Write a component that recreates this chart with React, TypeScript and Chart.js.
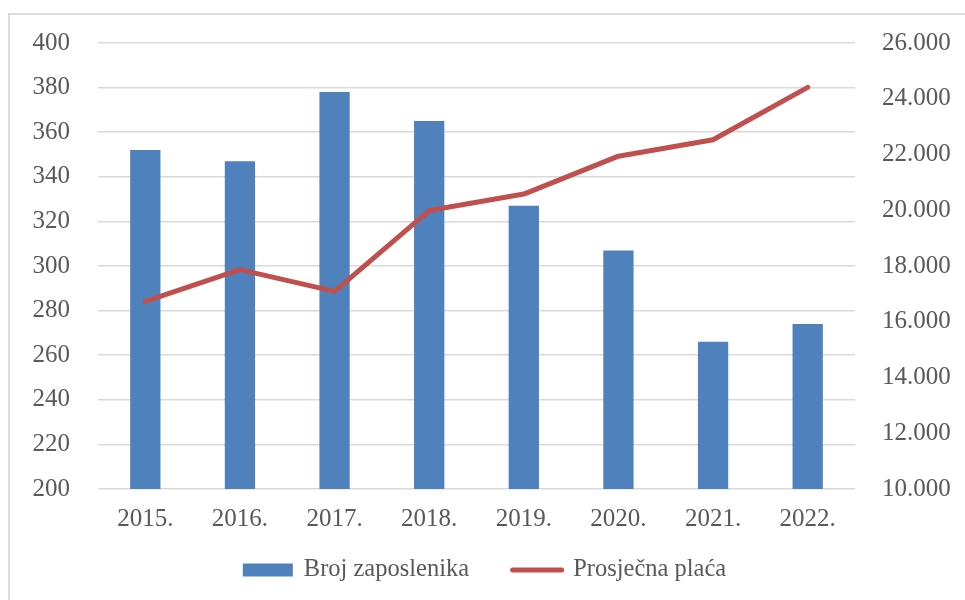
import React, { useEffect, useRef } from "react";
import { Chart, registerables } from "chart.js";

Chart.register(...registerables);

const years = ["2015.", "2016.", "2017.", "2018.", "2019.", "2020.", "2021.", "2022."];
const employees = [352, 347, 378, 365, 327, 307, 266, 274];
const avgSalary = [16730, 17870, 17090, 19990, 20580, 21940, 22530, 24410];
const seriesNames = ["Broj zaposlenika", "Prosječna plaća"];

const BLUE = "#4F81BD";
const RED = "#C0504D";
const TEXT = "#595959";
const GRID = "#d9d9d9";
const FONT = "'Liberation Serif', 'Times New Roman', serif";

function fmtThousands(v: number): string {
  const s = Math.round(v).toString();
  return s.replace(/\B(?=(\d{3})+(?!\d))/g, ".");
}

const legendPlugin = {
  id: "customLegend",
  afterDraw(chart: any) {
    const ctx = chart.ctx as CanvasRenderingContext2D;
    ctx.save();
    ctx.font = `24.5px ${FONT}`;
    const w1 = ctx.measureText(seriesNames[0]).width;
    const w2 = ctx.measureText(seriesNames[1]).width;
    const boxW = 50;
    const lineW = 54;
    const total = boxW + 11 + w1 + 41 + lineW + 9 + w2;
    const cy = 570;
    let x = chart.width / 2 + 2 - total / 2;
    ctx.fillStyle = BLUE;
    ctx.fillRect(x, cy - 6.5, boxW, 13);
    x += boxW + 11;
    ctx.fillStyle = TEXT;
    ctx.textBaseline = "middle";
    ctx.textAlign = "left";
    ctx.fillText(seriesNames[0], x, cy);
    x += w1 + 41;
    ctx.strokeStyle = RED;
    ctx.lineWidth = 5;
    ctx.lineCap = "round";
    ctx.beginPath();
    ctx.moveTo(x + 2.5, cy);
    ctx.lineTo(x + lineW - 2.5, cy);
    ctx.stroke();
    x += lineW + 9;
    ctx.fillText(seriesNames[1], x, cy);
    ctx.restore();
  },
};

export default function App() {
  const ref = useRef<HTMLCanvasElement | null>(null);
  useEffect(() => {
    if (!ref.current) return;
    const chart = new Chart(ref.current, {
      type: "bar",
      data: {
        labels: years,
        datasets: [
          {
            type: "bar",
            label: seriesNames[0],
            data: employees,
            backgroundColor: BLUE,
            borderWidth: 0,
            yAxisID: "y",
            barPercentage: 0.32,
            categoryPercentage: 1,
            order: 2,
          },
          {
            type: "line",
            label: seriesNames[1],
            data: avgSalary,
            borderColor: RED,
            backgroundColor: RED,
            borderWidth: 5,
            borderCapStyle: "round",
            borderJoinStyle: "round",
            pointRadius: 0,
            tension: 0,
            yAxisID: "y1",
            order: 1,
          },
        ],
      },
      plugins: [legendPlugin],
      options: {
        responsive: false,
        animation: false,
        layout: { padding: { top: 42, bottom: 59, left: 0, right: 0 } },
        plugins: {
          tooltip: { enabled: false },
          legend: { display: false },
        },
        scales: {
          x: {
            grid: { display: false },
            border: { display: false },
            ticks: { color: TEXT, font: { family: FONT, size: 25 }, padding: 7 },
          },
          y: {
            position: "left",
            min: 200,
            max: 400,
            ticks: { stepSize: 20, color: TEXT, font: { family: FONT, size: 25 }, padding: 28 },
            grid: { color: GRID, lineWidth: 1.5, drawTicks: false },
            border: { display: false },
            afterFit: (s: any) => {
              s.width = 98;
            },
          },
          y1: {
            position: "right",
            min: 10000,
            max: 26000,
            ticks: {
              stepSize: 2000,
              color: TEXT,
              font: { family: FONT, size: 25 },
              padding: 27,
              callback: (v: any) => fmtThousands(Number(v)),
            },
            grid: { display: false, drawTicks: false },
            border: { display: false },
            afterFit: (s: any) => {
              s.width = 110;
            },
          },
        },
      },
    } as any);
    return () => chart.destroy();
  }, []);

  return (
    <div style={{ position: "fixed", inset: 0, overflow: "hidden", background: "#fff" }}>
      <div
        style={{
          position: "absolute",
          left: 8,
          top: 13,
          right: -10,
          bottom: -10,
          borderLeft: "2px solid #dcdcdc",
          borderTop: "2px solid #dcdcdc",
        }}
      />
      <canvas
        ref={ref}
        width={965}
        height={600}
        style={{ position: "absolute", left: 0, top: 0, width: 965, height: 600 }}
      />
    </div>
  );
}
